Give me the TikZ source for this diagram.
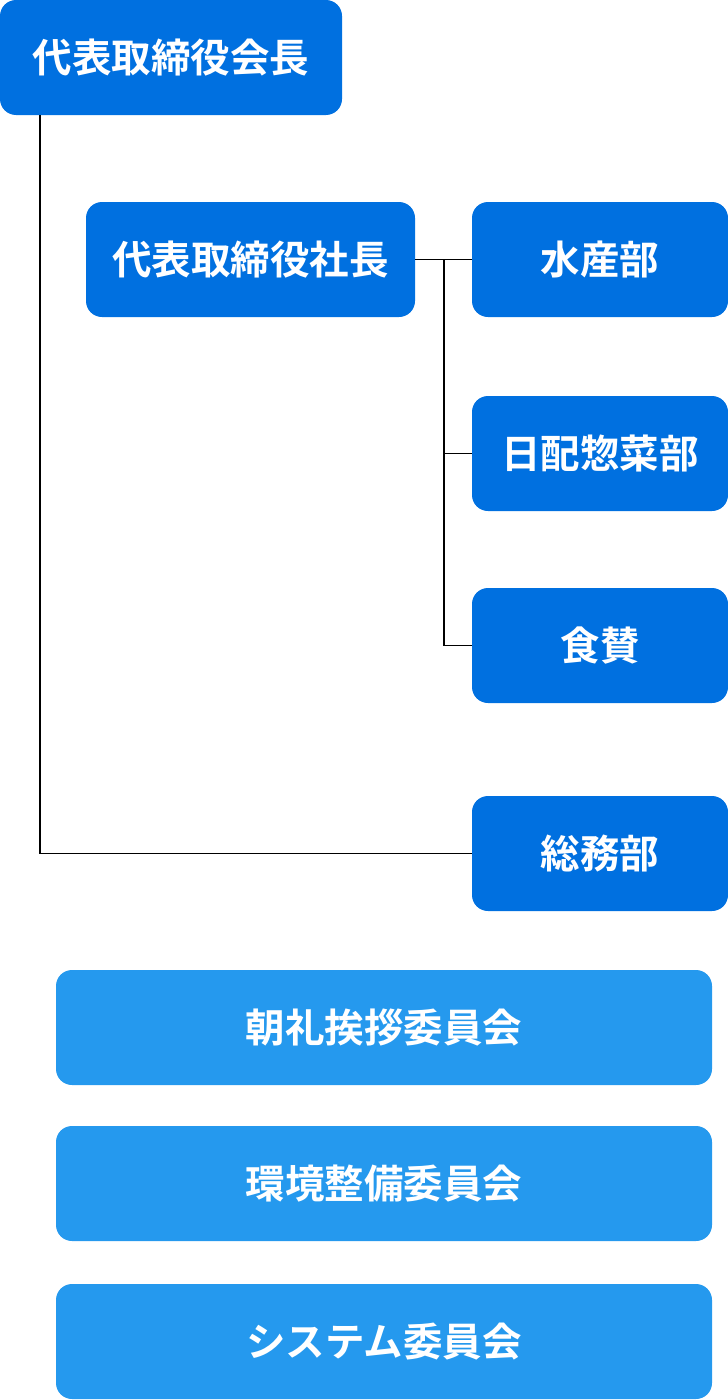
\documentclass[tikz,border=0pt]{standalone}
\usepackage{fontspec}
\setmainfont{Noto Sans CJK JP}[BoldFont={Noto Sans CJK JP Bold}]
\definecolor{darkblue}{RGB}{0,112,224}
\definecolor{lightblue}{RGB}{37,153,238}
\begin{document}
\begin{tikzpicture}[x=1pt,y=-1pt,
  box/.style={rounded corners=16pt,inner sep=0pt,text=white,font=\bfseries\fontsize{39.5}{44}\selectfont},
  dbox/.style={box,fill=darkblue},
  lbox/.style={box,fill=lightblue},
  link/.style={draw=black,line width=1.8pt}]
\useasboundingbox (0,0) rectangle (728,1400);
\node[dbox,minimum width=342pt,minimum height=115pt] (chair) at (171,57.5) {代表取締役会長};
\node[dbox,minimum width=329pt,minimum height=115pt] (pres) at (250.5,259.5) {代表取締役社長};
\node[dbox,minimum width=256pt,minimum height=115pt] (sui) at (600,259.5) {水産部};
\node[dbox,minimum width=256pt,minimum height=115pt] (nichi) at (600,453.5) {日配惣菜部};
\node[dbox,minimum width=256pt,minimum height=115pt] (shoku) at (600,645.5) {食賛};
\node[dbox,minimum width=256pt,minimum height=115pt] (somu) at (600,853.5) {総務部};
\node[lbox,minimum width=656pt,minimum height=115pt] (c1) at (384,1027.5) {朝礼挨拶委員会};
\node[lbox,minimum width=656pt,minimum height=115pt] (c2) at (384,1183.5) {環境整備委員会};
\node[lbox,minimum width=656pt,minimum height=115pt] (c3) at (384,1341.5) {システム委員会};
\coordinate (bus) at (444,0);
\draw[link] (chair.south -| 40,0) |- (somu.west);
\draw[link] (pres.east) -- (sui.west);
\draw[link] (pres.east -| bus) |- (nichi.west);
\draw[link] (pres.east -| bus) |- (shoku.west);
\end{tikzpicture}
\end{document}
